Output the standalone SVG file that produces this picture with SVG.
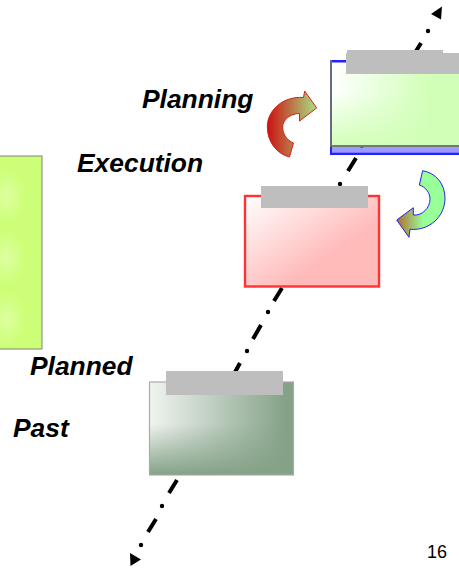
<svg xmlns="http://www.w3.org/2000/svg" width="459" height="571" viewBox="0 0 459 571">
<style>
.lbl{font-family:"Liberation Sans",Arial,sans-serif;font-weight:bold;font-style:italic;font-size:26.4px;fill:#000}
.num{font-family:"Liberation Sans",Arial,sans-serif;font-size:18px;fill:#000}
.dash{stroke:#000;stroke-width:4;fill:none}
.dot{fill:#000}
.tab{fill:#bebebe}
</style>
<defs>
<linearGradient id="gGreenH" x1="0" y1="0" x2="1" y2="0"><stop offset="0" stop-color="#ffffff"/><stop offset="0.75" stop-color="#d2ffb8"/></linearGradient>
<linearGradient id="gGreenV" x1="0" y1="0" x2="0" y2="1"><stop offset="0.35" stop-color="#d2ffb8" stop-opacity="0"/><stop offset="1" stop-color="#d2ffb8"/></linearGradient>
<linearGradient id="gRed" x1="0" y1="0" x2="1" y2="1"><stop offset="0" stop-color="#ffffff"/><stop offset="0.65" stop-color="#ffbaba"/></linearGradient>
<linearGradient id="gGreyH" x1="0" y1="0" x2="1" y2="0"><stop offset="0" stop-color="#f0f4f0"/><stop offset="0.95" stop-color="#84a288"/></linearGradient>
<linearGradient id="gGreyV" x1="0" y1="0" x2="0" y2="1"><stop offset="0.45" stop-color="#84a288" stop-opacity="0"/><stop offset="1" stop-color="#84a288"/></linearGradient>
<radialGradient id="gLime"><stop offset="0" stop-color="#deffa0"/><stop offset="1" stop-color="#ccff77"/></radialGradient>
<linearGradient id="gArrowR" x1="0" y1="0" x2="1" y2="0"><stop offset="0" stop-color="#cc1111"/><stop offset="1" stop-color="#a8e080"/></linearGradient>
<linearGradient id="gArrowB" x1="0" y1="0" x2="1" y2="0"><stop offset="0" stop-color="#b06a30"/><stop offset="0.55" stop-color="#99ff99"/></linearGradient>
</defs>
<g id="connectors">
<path class="dash" d="M282,288 L274,301 M261,325 L253,339 M240,363 L234,374 M356,158 L348,171 M421,43 L413,56 M177,480 L169,493 M156,519 L148,532"/>
<circle class="dot" cx="268" cy="312" r="2.2"/>
<circle class="dot" cx="247" cy="351" r="2.2"/>
<circle class="dot" cx="340" cy="184" r="2.2"/>
<circle class="dot" cx="428" cy="31" r="2.2"/>
<circle class="dot" cx="162" cy="506" r="2.2"/>
<circle class="dot" cx="141" cy="545" r="2.2"/>
<polygon class="dot" points="442,6.5 431,14 441,19.5"/>
<polygon class="dot" points="130,553 141,559.5 130.500,566"/>
</g>
<g id="node-left">
<rect x="-2" y="156" width="44" height="193" fill="#ccff77" stroke="#7c8478" stroke-width="1"/>
<ellipse cx="6" cy="196" rx="20" ry="28" fill="url(#gLime)"/>
<ellipse cx="6" cy="258" rx="20" ry="28" fill="url(#gLime)"/>
<ellipse cx="6" cy="319" rx="20" ry="28" fill="url(#gLime)"/>
</g>
<g id="node-planning">
<rect x="331.500" y="62" width="130" height="84" fill="url(#gGreenH)"/>
<rect x="331.500" y="62" width="130" height="84" fill="url(#gGreenV)"/>
<rect x="330" y="60" width="131" height="2.500" fill="#2222ff"/>
<rect x="330" y="60" width="2" height="95" fill="#666a80"/>
<rect x="332" y="145" width="129" height="2" fill="#777"/>
<rect x="332" y="147" width="129" height="5.500" fill="#9c9cff"/>
<rect x="330" y="152.500" width="131" height="2.500" fill="#2222ff"/>
<rect x="330" y="147" width="2" height="8" fill="#2222ff"/>
<rect x="360.500" y="147" width="2.500" height="1" fill="#555"/>
<rect x="347" y="50" width="96" height="10" class="tab"/>
<rect x="346" y="53" width="115" height="21" class="tab"/>
</g>
<g id="node-execution">
<rect x="245" y="196" width="134" height="90.500" fill="url(#gRed)" stroke="#ff3333" stroke-width="2.400"/>
<rect x="261" y="186" width="107" height="22" class="tab"/>
</g>
<g id="node-past">
<rect x="150" y="382" width="143.500" height="93" fill="url(#gGreyH)"/>
<rect x="150" y="382" width="143.500" height="93" fill="url(#gGreyV)"/>
<rect x="149.500" y="382" width="144" height="93" fill="none" stroke="#a8aca8" stroke-width="1.200"/>
<rect x="166" y="371" width="117" height="24" class="tab"/>
</g>
<g id="arrow-red">
<path d="M289.500,157 L293.500,143 C286,140 282.700,133 282.700,127 C282.700,120 290,113.500 299.500,113.500 L299.500,121 L316.700,108 L304.700,91 L303.500,97.500 C283,96 267.300,110 267.300,127 C267.300,142 277,154 289.500,157 Z" fill="url(#gArrowR)" stroke="#d62020" stroke-width="1"/>
</g>
<g id="arrow-blue">
<path d="M422.700,170.700 L419.300,185 C426,187 430,193 430,199.300 C430,208 422,216 413.300,215 L413.300,207.700 L396.700,220 L409,237.300 L410,229.300 C430,231 445,216 445,198.300 C445,184 436,173 422.700,170.700 Z" fill="url(#gArrowB)" stroke="#2222ee" stroke-width="1"/>
</g>
<text class="lbl" x="142" y="108">Planning</text>
<text class="lbl" x="77" y="172">Execution</text>
<text class="lbl" x="30" y="375">Planned</text>
<text class="lbl" x="13" y="437">Past</text>
<text class="num" x="427" y="558">16</text>
</svg>
